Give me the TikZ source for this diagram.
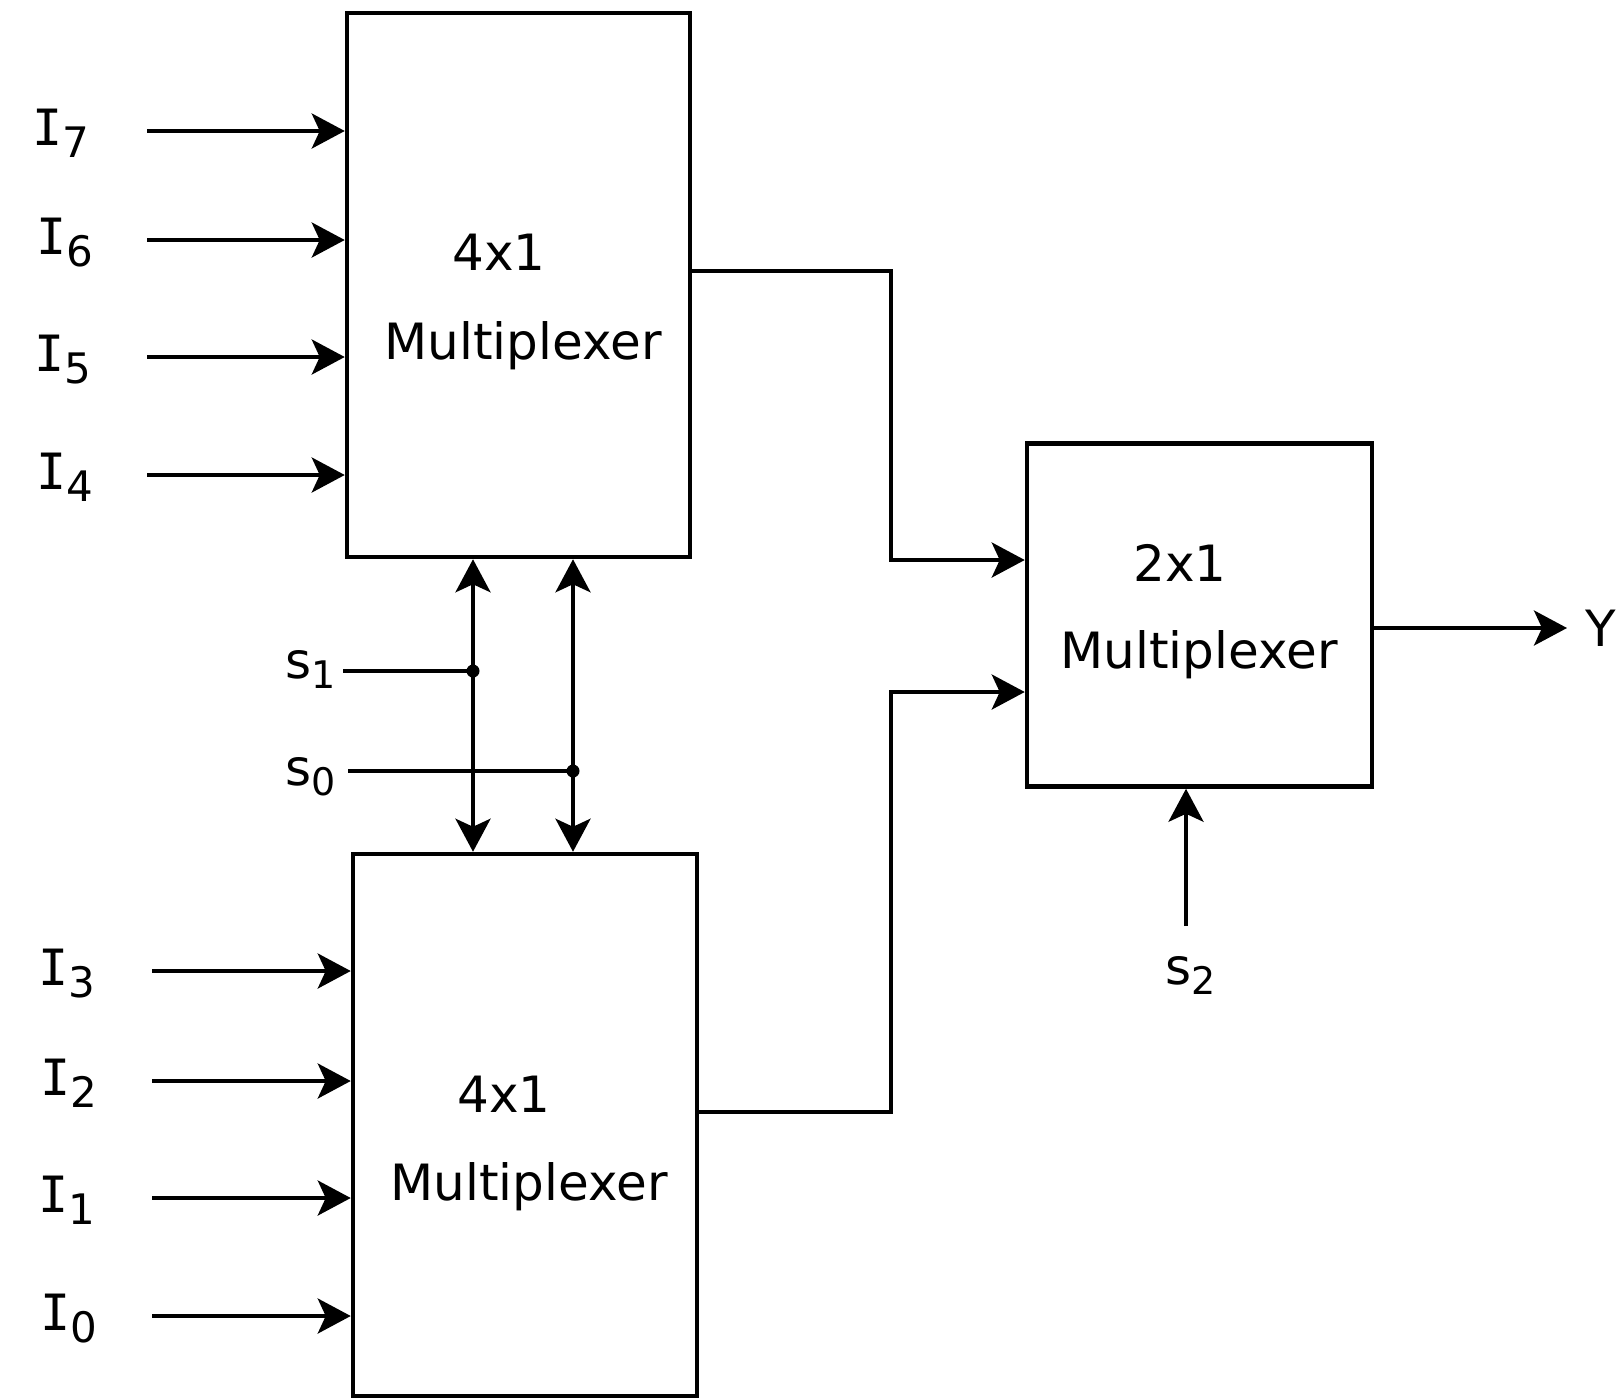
\documentclass[tikz,border=0pt]{standalone}
\usepackage{fontspec}
\setmainfont{DejaVu Sans}
\newfontfamily\monoI{DejaVu Sans Mono}
\usetikzlibrary{arrows.meta}
\newcommand{\inlbl}[1]{{\monoI I}\raisebox{-12pt}{\fontsize{42}{42}\selectfont #1}}
\newcommand{\sellbl}[1]{s\raisebox{-10pt}{\fontsize{38}{38}\selectfont #1}}
\tikzset{
  box/.style={draw, line width=4.5pt, rectangle, inner sep=0pt},
  wire/.style={line width=3.8pt},
  tip/.style={-{Stealth[length=33pt,width=35pt,inset=8pt]}},
  arr/.style={wire, tip},
  darr/.style={wire, {Stealth[length=33pt,width=35pt,inset=8pt]}-{Stealth[length=33pt,width=35pt,inset=8pt]}},
  lbl/.style={inner sep=0pt, anchor=base west, font=\fontsize{50}{60}\selectfont},
  txt/.style={inner sep=0pt, anchor=base, font=\fontsize{50}{60}\selectfont},
  dot/.style={circle, fill, inner sep=0pt, minimum size=13pt}
}
\begin{document}
\begin{tikzpicture}[x=1pt, y=-1pt]
\useasboundingbox (0,0) rectangle (1617,1398);
% boxes
\node[box, minimum width=343pt, minimum height=544pt] (top) at (518.5,285) {};
\node[box, minimum width=344pt, minimum height=542pt] (bot) at (525,1125) {};
\node[box, minimum width=345pt, minimum height=343pt] (mux) at (1199.5,615) {};
% box texts
\node[txt] (t1) at (499,270) {4x1};
\node[txt] (t2) at (523,359) {Multiplexer};
\node[txt] (b1) at (504,1112) {4x1};
\node[txt] (b2) at (529,1200) {Multiplexer};
\node[txt] (m1) at (1180,581) {2x1};
\node[txt] (m2) at (1199,668) {Multiplexer};
% top inputs
\node[lbl] (I7) at (32,145) {\inlbl{7}};
\node[lbl] (I6) at (36,254) {\inlbl{6}};
\node[lbl] (I5) at (34,371) {\inlbl{5}};
\node[lbl] (I4) at (36,489) {\inlbl{4}};
\coordinate (i7) at (147,131);
\coordinate (i6) at (147,240);
\coordinate (i5) at (147,357);
\coordinate (i4) at (147,475);
\foreach \c in {i7,i6,i5,i4} \draw[arr] (\c) -- (\c -| top.west);
% bottom inputs
\node[lbl] (I3) at (38,985) {\inlbl{3}};
\node[lbl] (I2) at (40,1095) {\inlbl{2}};
\node[lbl] (I1) at (38,1212) {\inlbl{1}};
\node[lbl] (I0) at (40,1330) {\inlbl{0}};
\coordinate (i3) at (152,971);
\coordinate (i2) at (152,1081);
\coordinate (i1) at (152,1198);
\coordinate (i0) at (152,1316);
\foreach \c in {i3,i2,i1,i0} \draw[arr] (\c) -- (\c -| bot.west);
% select lines
\coordinate (v1) at (473,0);
\coordinate (v0) at (573,0);
\draw[darr] (v1 |- top.south) -- (v1 |- bot.north);
\draw[darr] (v0 |- top.south) -- (v0 |- bot.north);
\node[lbl] (s1) at (285,678) {\sellbl{1}};
\node[lbl] (s0) at (285,785) {\sellbl{0}};
\coordinate (s1s) at (343,671);
\coordinate (s0s) at (348,771);
\node[dot] (d1) at (v1 |- s1s) {};
\node[dot] (d0) at (v0 |- s0s) {};
\draw[wire] (s1s) -- (d1.center);
\draw[wire] (s0s) -- (d0.center);
% outputs to 2x1
\coordinate (yo1) at (0,271);
\coordinate (yi1) at (0,560);
\coordinate (yo0) at (0,1112);
\coordinate (yi0) at (0,692);
\coordinate (xm) at (891,0);
\draw[arr] (yo1 -| top.east) -- (yo1 -| xm) -- (yi1 -| xm) -- (yi1 -| mux.west);
\draw[arr] (yo0 -| bot.east) -- (yo0 -| xm) -- (yi0 -| xm) -- (yi0 -| mux.west);
% s2
\node[lbl] (s2) at (1165,984) {\sellbl{2}};
\coordinate (s2s) at (1186,926);
\draw[arr] (s2s) -- (s2s |- mux.south);
% output Y
\node[lbl, anchor=west] (Y) at (1585,628) {Y};
\coordinate (yy) at (0,628);
\draw[arr] (yy -| mux.east) -- ([xshift=-18pt]Y.west);
\end{tikzpicture}
\end{document}
